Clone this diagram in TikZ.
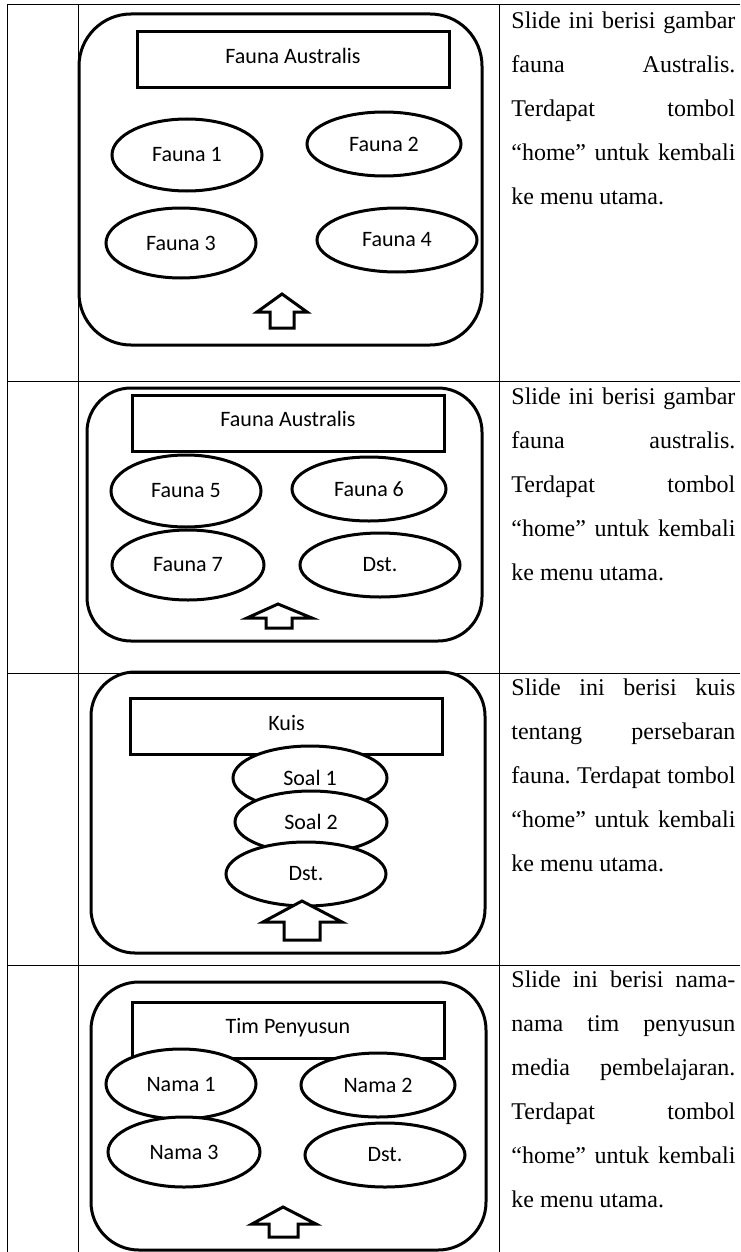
\documentclass[tikz,border=0pt]{standalone}
\usepackage{fontspec}
\setmainfont{Liberation Serif}
\newfontfamily\slidefont{Carlito}
\usepackage{tikz}
\usetikzlibrary{shapes.geometric}

\newcommand\baris[1]{\makebox[112pt][s]{\spaceskip=0pt\xspaceskip=0pt\frenchspacing #1}\\}

\tikzset{
  garis/.style={line width=0.5pt},
  layar/.style={line width=1.5pt},
  judul/.style={draw, line width=1.5pt, fill=white, minimum width=156pt,
                minimum height=28pt, text depth=4pt, font=\slidefont\fontsize{11}{13}\selectfont},
  menu/.style 2 args={draw, ellipse, line width=1.5pt, fill=white, inner sep=0pt,
                minimum width=#1pt, minimum height=#2pt, font=\slidefont\fontsize{11}{13}\selectfont},
  tombol/.style={line width=1.5pt, fill=white, line join=miter},
  ket/.style={anchor=north west, inner sep=0pt, text width=112pt, align=justify,
              font=\fontsize{12}{22}\selectfont\frenchspacing}
}

\begin{document}
\begin{tikzpicture}[x=0.5pt, y=-0.5pt]
      \useasboundingbox (0,0) rectangle (740,1252);
      % tabel
      \draw[garis] (7,5) -- (740,5)
                   (7,5) -- (7,1252) (78,5) -- (78,1252) (499,5) -- (499,1252);
      \foreach \y in {381,673,965}
        \draw[garis] (7,\y) -- (740,\y);

      % slide 1
      \draw[layar, rounded corners=26pt] (79,14) rectangle (482,345);
      \node[judul] (judul1) at (293,60) {Fauna Australis};
      \node[menu={75}{36}] (fauna1) at (187,155) {Fauna 1};
      \node[menu={77}{32}] (fauna2) at (384,144) {Fauna 2};
      \node[menu={75}{35}] (fauna3) at (181,243) {Fauna 3};
      \node[menu={80}{32}] (fauna4) at (397,240) {Fauna 4};
      \draw[tombol] (282,294) -- (307,312) -- (294,312) -- (294,328)
                    -- (270,328) -- (270,312) -- (257,312) -- cycle;
      \node[ket] (ket1) at (511,11) {\baris{Slide ini berisi gambar}
        \baris{fauna Australis.}\baris{Terdapat tombol}
        \baris{“home” untuk kembali}ke menu utama.};

      % slide 2
      \draw[layar, rounded corners=22pt] (87,388) rectangle (482,641);
      \node[judul] (judul2) at (288,423) {Fauna Australis};
      \node[menu={75}{36}] (fauna5) at (186,491) {Fauna 5};
      \node[menu={77}{32}] (fauna6) at (369,489) {Fauna 6};
      \node[menu={76}{35}] (fauna7) at (188,565) {Fauna 7};
      \node[menu={80}{32}] (dst2) at (380,565) {Dst.};
      \draw[tombol] (278,604) -- (312,618) -- (292,618) -- (292,628)
                    -- (266,628) -- (266,618) -- (247,618) -- cycle;
      \node[ket] (ket2) at (511,387) {\baris{Slide ini berisi gambar}
        \baris{fauna australis.}\baris{Terdapat tombol}
        \baris{“home” untuk kembali}ke menu utama.};

      % slide 3
      \draw[layar, rounded corners=22pt] (91,672) rectangle (485,953);
      \node[judul] (judul3) at (286.5,726.5) {Kuis};
      \node[menu={77}{32}] (soal1) at (310,778) {Soal 1};
      \node[menu={76}{31}] (soal2) at (311,822) {Soal 2};
      \node[menu={80}{32}] (dst3) at (306,874) {Dst.};
      \draw[tombol] (302,901) -- (342,922) -- (320,922) -- (320,940)
                    -- (284,940) -- (284,922) -- (263,922) -- cycle;
      \node[ket] (ket3) at (511,678) {\baris{Slide ini berisi kuis}
        \baris{tentang persebaran}\baris{fauna. Terdapat tombol}
        \baris{“home” untuk kembali}ke menu utama.};

      % slide 4
      \draw[layar, rounded corners=24pt] (91,982) rectangle (486,1250);
      \node[judul] (judul4) at (288,1030) {Tim Penyusun};
      \node[menu={75}{35}] (nama1) at (181,1084) {Nama 1};
      \node[menu={77}{32}] (nama2) at (378,1085) {Nama 2};
      \node[menu={76}{35}] (nama3) at (184,1152) {Nama 3};
      \node[menu={80}{32}] (dst4) at (385,1155) {Dst.};
      \draw[tombol] (283,1207) -- (316,1224) -- (298,1224) -- (298,1237)
                    -- (269,1237) -- (269,1224) -- (252,1224) -- cycle;
      \node[ket] (ket4) at (511,970) {\baris{Slide ini berisi nama-}
        \baris{nama tim penyusun}\baris{media pembelajaran.}
        \baris{Terdapat tombol}\baris{“home” untuk kembali}ke menu utama.};
\end{tikzpicture}
\end{document}
